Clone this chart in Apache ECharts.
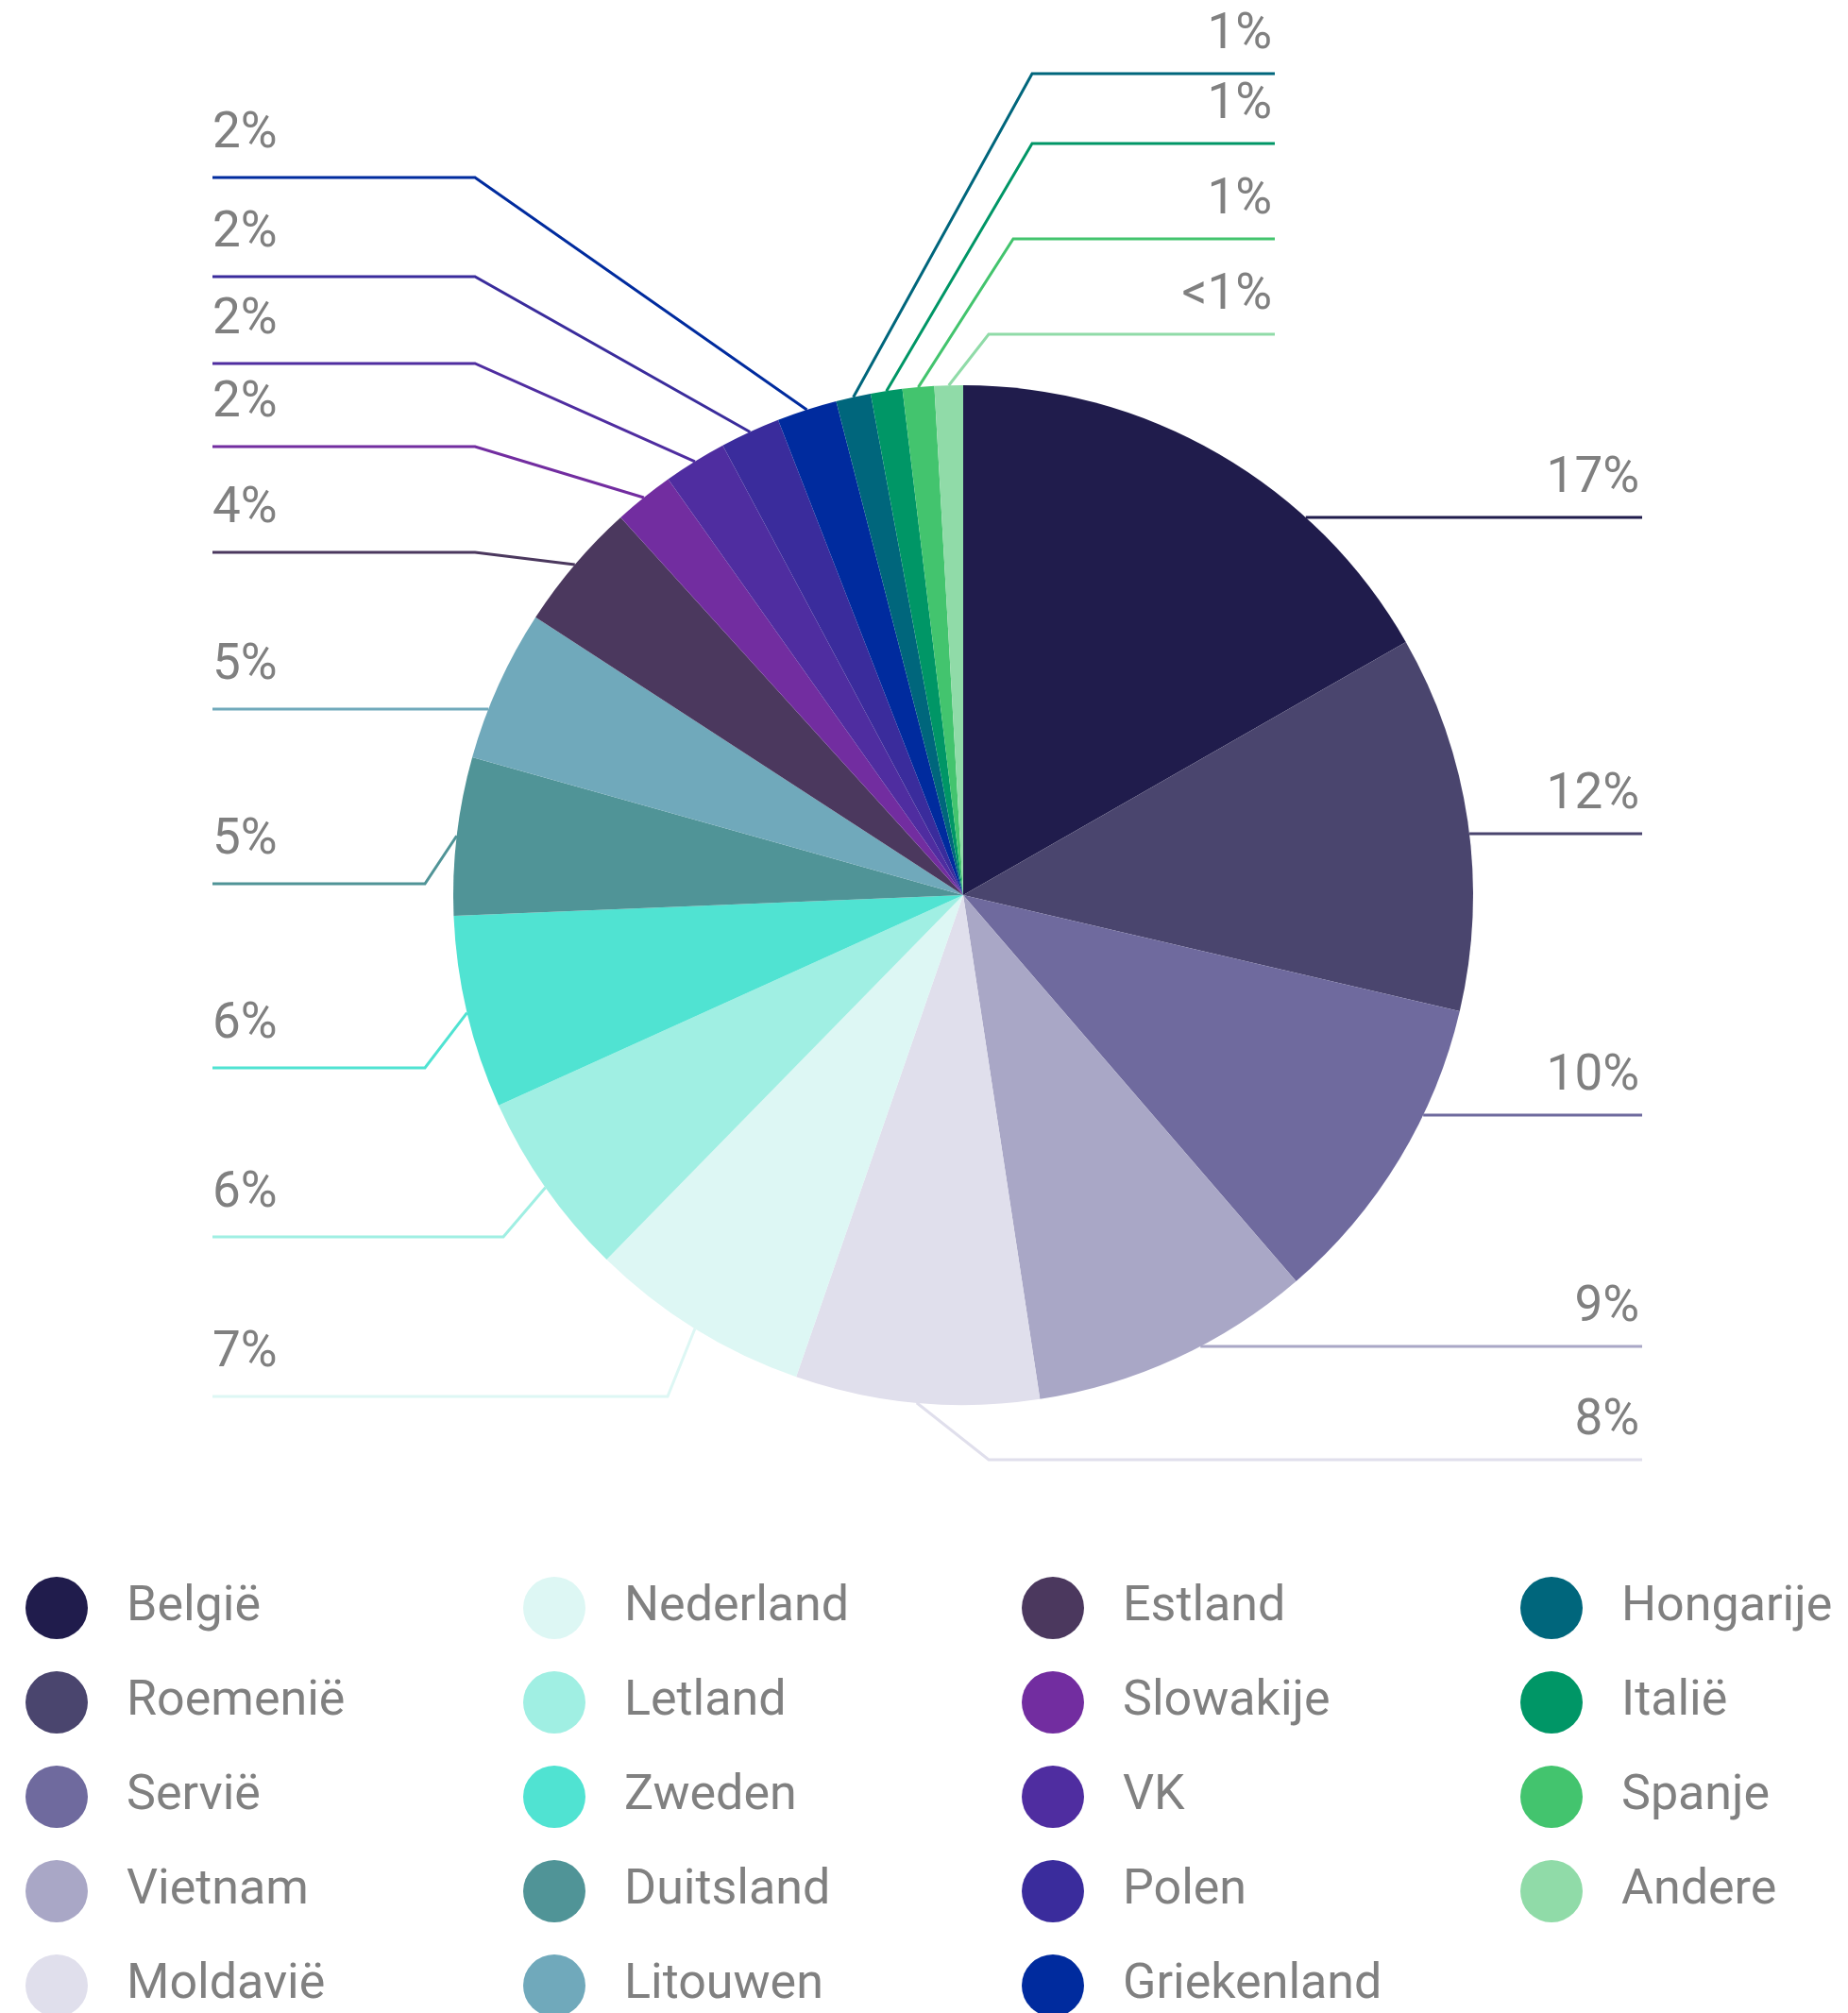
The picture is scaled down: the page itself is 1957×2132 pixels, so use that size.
<!DOCTYPE html>
<html>
<head>
<meta charset="utf-8">
<script src="https://cdn.jsdelivr.net/npm/echarts@6/dist/echarts.min.js"></script>
<style>
  html, body { margin: 0; padding: 0; background: #ffffff; }
  #chart { width: 1957px; height: 2132px; }
</style>
</head>
<body>
<div id="chart"></div>
<script>
// Herkomst per land, aandeel in procent (klokwijs vanaf 12 uur)
const countries = [
  'België', 'Roemenië', 'Servië', 'Vietnam', 'Moldavië',
  'Nederland', 'Letland', 'Zweden', 'Duitsland', 'Litouwen',
  'Estland', 'Slowakije', 'VK', 'Polen', 'Griekenland',
  'Hongarije', 'Italië', 'Spanje', 'Andere'
];
const shares = [
  16.7, 11.9, 10.0, 8.9, 7.7,
  7.0, 5.9, 6.1, 5.0, 4.8,
  4.1, 1.9, 2.0, 1.9, 1.9,
  1.1, 1.0, 1.0, 0.9
];
const colors = [
  '#201c4c', '#4a456e', '#6f6a9e', '#a9a7c6', '#e0dfec',
  '#ddf7f4', '#a0efe3', '#50e3d2', '#509497', '#70a9bb',
  '#4b385e', '#722da0', '#4f2da0', '#3a2c9c', '#002b9e',
  '#00667c', '#009666', '#43c46e', '#90dba8'
];

// Label guide lines: height of the horizontal run, optional knee x, end x
const guideY    = [548, 883, 1181, 1426, 1546, 1479, 1310, 1131, 936, 751, 585, 473, 385, 293, 188, 78, 152, 253, 354];
const guideKnee = [null, null, null, null, 1047, 707, 533, 450, 450, null, 503, 503, 503, 503, 503, 1093, 1093, 1073, 1047];
const guideEnd  = [1739, 1739, 1739, 1739, 1739, 225, 225, 225, 225, 225, 225, 225, 225, 225, 225, 1350, 1350, 1350, 1350];

const CX = 1020, CY = 948, R = 540;
const legendColumnsLeft = [27, 554, 1082, 1610];
const TEXT_GREY = '#808080';
const FONT = 'Roboto, "Noto Sans", sans-serif';

const total = shares.reduce((a, b) => a + b, 0);

function pctText(v) {
  return v < 1 ? '<1%' : Math.round(v) + '%';
}

// point on the rim at the middle of slice i
function rimPoint(i) {
  let before = 0;
  for (let k = 0; k < i; k++) before += shares[k];
  const a = (before + shares[i] / 2) / total * Math.PI * 2;
  return [CX + R * Math.sin(a), CY - R * Math.cos(a)];
}

const chart = echarts.init(document.getElementById('chart'));

chart.setOption({
  animation: false,
  color: colors,
  legend: legendColumnsLeft.map((left, c) => ({
    data: countries.slice(c * 5, c * 5 + 5),
    orient: 'vertical',
    left: left,
    top: 1670,
    height: 600,
    width: 520,
    padding: 0,
    icon: 'circle',
    itemWidth: 66,
    itemHeight: 66,
    itemGap: 34,
    selectedMode: false,
    textStyle: {
      fontFamily: FONT,
      fontSize: 52,
      color: TEXT_GREY,
      padding: [0, 0, 0, 36]
    }
  })),
  series: [{
    type: 'pie',
    center: [CX, CY],
    radius: R,
    startAngle: 90,
    clockwise: true,
    avoidLabelOverlap: false,
    silent: true,
    emphasis: { disabled: true },
    data: countries.map((name, i) => ({ name: name, value: shares[i] })),
    label: {
      show: true,
      position: 'outside',
      formatter: p => pctText(p.value),
      fontFamily: FONT,
      fontSize: 53,
      color: TEXT_GREY
    },
    labelLine: {
      show: true,
      length: 20,
      length2: 20,
      lineStyle: { width: 3 }
    },
    labelLayout: function (p) {
      const i = p.dataIndex;
      const y = guideY[i], end = guideEnd[i], knee = guideKnee[i];
      const toRight = end > CX;
      let start, bend;
      if (knee == null) {
        const dx = Math.sqrt(R * R - (y - CY) * (y - CY));
        start = [toRight ? CX + dx : CX - dx, y];
        bend = start;
      } else {
        start = rimPoint(i);
        bend = [knee, y];
      }
      return {
        x: toRight ? end - 3 : end,
        y: y - (toRight ? 40 : 45),
        align: toRight ? 'right' : 'left',
        verticalAlign: 'middle',
        labelLinePoints: [start, bend, [end, y]]
      };
    }
  }]
});
</script>
</body>
</html>
